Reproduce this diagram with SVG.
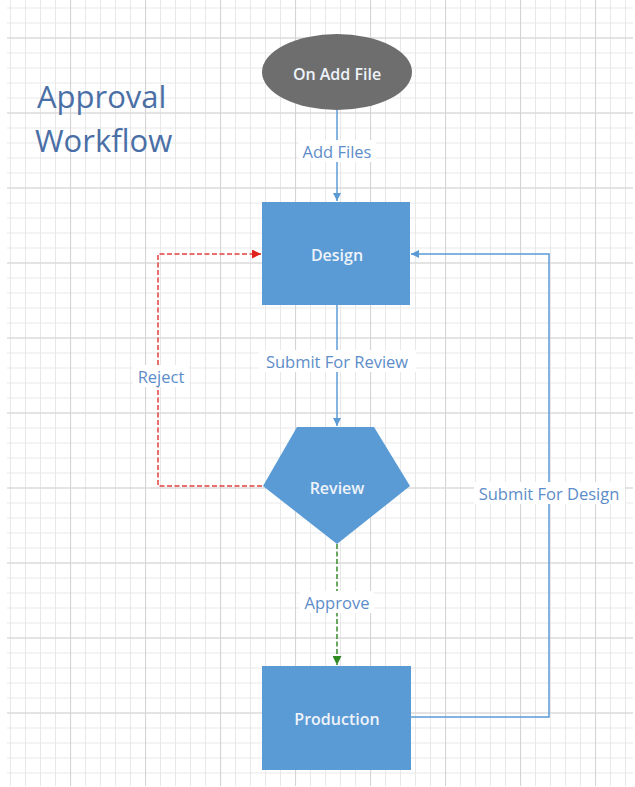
<svg xmlns="http://www.w3.org/2000/svg" width="635" height="787" viewBox="0 0 635 787">
  <style>
    .node { fill: #5b9bd5; }
    .ntext { font-family: "Open Sans", "Liberation Sans", sans-serif; font-size: 16px; font-weight: 600; fill: #eef3fa; text-anchor: middle; dominant-baseline: central; }
    .conn { fill: none; stroke: #5b9bd5; stroke-width: 1.5; }
    .reject { stroke: #e0403c; stroke-dasharray: 5 2.5; }
    .approve { stroke: #3a8a2e; stroke-dasharray: 5 2.5; }
    .lbl { font-family: "Open Sans", "Liberation Sans", sans-serif; font-size: 16.5px; fill: #5d8dc9; text-anchor: middle; dominant-baseline: central; }
    .lblbg { fill: #ffffff; }
    .title { font-family: "Open Sans", "Liberation Sans", sans-serif; font-size: 31px; fill: #4a6fa6; }
  </style>
  <defs>
    <pattern id="minor" patternUnits="userSpaceOnUse" x="10" y="7.5" width="15" height="15">
      <path d="M0.5,0 V15 M0,0.5 H15" stroke="#e8e8e8" stroke-width="1" fill="none"/>
    </pattern>
    <pattern id="major" patternUnits="userSpaceOnUse" x="70" y="37.5" width="75" height="75">
      <path d="M0.5,0 V75 M0,0.5 H75" stroke="#d4d4d4" stroke-width="1.2" fill="none"/>
    </pattern>
    <marker id="arrBlue" markerUnits="userSpaceOnUse" markerWidth="9" markerHeight="8" refX="8" refY="4" orient="auto">
      <path d="M0,0 L8,4 L0,8 z" fill="#5b9bd5"/>
    </marker>
    <marker id="arrRed" markerUnits="userSpaceOnUse" markerWidth="10" markerHeight="9" refX="9" refY="4.5" orient="auto">
      <path d="M0,0 L9,4.5 L0,9 z" fill="#e0201c"/>
    </marker>
    <marker id="arrGreen" markerUnits="userSpaceOnUse" markerWidth="10" markerHeight="9" refX="9" refY="4.5" orient="auto">
      <path d="M0,0 L9,4.5 L0,9 z" fill="#2f8a22"/>
    </marker>
  </defs>

  <rect x="0" y="0" width="635" height="787" fill="#ffffff"/>
  <g id="grid">
    <rect x="7" y="0" width="626" height="786" fill="url(#minor)"/>
    <rect x="7" y="0" width="626" height="786" fill="url(#major)"/>
  </g>

  <g id="title">
    <text class="title" x="37" y="108">Approval</text>
    <text class="title" x="35" y="152">Workflow</text>
  </g>

  <g id="connectors">
    <g id="c-addfiles">
      <path class="conn" d="M337,110 V201" marker-end="url(#arrBlue)"/>
      <rect class="lblbg" x="299" y="140" width="77" height="22"/>
      <text class="lbl" x="337" y="151">Add Files</text>
    </g>
    <g id="c-submitreview">
      <path class="conn" d="M337,305 V426" marker-end="url(#arrBlue)"/>
      <rect class="lblbg" x="259" y="350" width="157" height="22"/>
      <text class="lbl" x="337" y="361">Submit For Review</text>
    </g>
    <g id="c-approve">
      <path class="conn approve" d="M337,544 V665" marker-end="url(#arrGreen)"/>
      <rect class="lblbg" x="300" y="591" width="74" height="22"/>
      <text class="lbl" x="337" y="602">Approve</text>
    </g>
    <g id="c-reject">
      <path class="conn reject" d="M262,486 H158 V254 H261" marker-end="url(#arrRed)"/>
      <rect class="lblbg" x="133" y="365" width="56" height="22"/>
      <text class="lbl" x="161" y="376">Reject</text>
    </g>
    <g id="c-submitdesign">
      <path class="conn" d="M411,717 H549 V254 H411" marker-end="url(#arrBlue)"/>
      <rect class="lblbg" x="474" y="482" width="151" height="22"/>
      <text class="lbl" x="549" y="493">Submit For Design</text>
    </g>
  </g>

  <g id="on-add-file">
    <ellipse cx="337" cy="72" rx="75" ry="38" fill="#6e6e6e"/>
    <text class="ntext" x="337" y="74">On Add File</text>
  </g>
  <g id="design">
    <rect class="node" x="262" y="202" width="148" height="103"/>
    <text class="ntext" x="337" y="255">Design</text>
  </g>
  <g id="review">
    <polygon class="node" points="297,427 374,427 410,486 337,544 263,486"/>
    <text class="ntext" x="337" y="488">Review</text>
  </g>
  <g id="production">
    <rect class="node" x="262" y="666" width="149" height="104"/>
    <text class="ntext" x="337" y="719">Production</text>
  </g>
</svg>
